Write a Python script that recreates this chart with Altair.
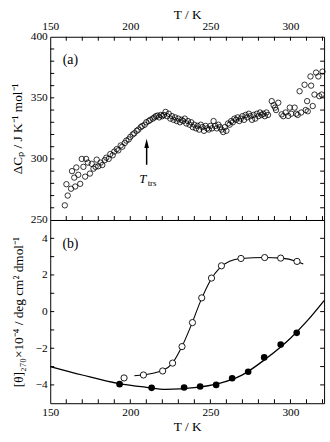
import altair as alt
import pandas as pd

# ---------------- data: panel (a) ----------------
cp_T = [159.1, 160.1, 160.9, 163.0, 163.6, 165.0, 165.6, 166.3, 167.5, 168.7, 169.7, 170.7,
        171.8, 172.4, 173.5, 174.8, 175.9, 177.0, 178.3, 179.0,
        180.0, 181.5, 182.5, 184.0, 185.0, 186.5, 187.5, 189.0, 190.0, 191.5, 192.5, 194.0,
        195.0, 196.5, 197.5, 199.0, 200.0, 201.5, 202.5, 204.0, 205.0, 206.5, 207.5, 209.0,
        210.0, 211.5, 212.5, 214.0, 215.0,
        216, 217, 218, 219, 220, 221, 222, 223, 224, 225, 226, 227, 228, 229, 230, 231, 232,
        233, 234, 235, 236, 237, 238, 239, 240, 241, 242, 243, 244, 245, 246, 247, 248, 249,
        250, 251, 252, 253, 254, 255, 256, 257, 258, 259, 260, 261, 262,
        263, 264, 265, 266, 267, 268, 269, 270, 271, 272, 273, 274, 275, 276, 277, 278, 279,
        280, 281, 282, 283, 284, 285, 286,
        288.3, 289.5, 290.4, 291.0, 292.4, 294.5, 295.5, 297.0, 298.6, 299.6, 300.5, 302.6,
        303.6, 304.5,
        305.7, 306.7, 308.8, 309.5, 310.4, 310.8, 312.5, 312.9, 313.9, 315.0, 316.0, 317.4,
        318.0, 319.5, 320.0]
cp_val = [262.0, 279.3, 270.0, 275.6, 290.0, 284.7, 277.4, 293.0, 287.0, 279.6, 300.0, 293.5,
          285.5, 300.0, 297.0, 288.0, 296.0, 292.0, 293.5, 299.4,
          294, 297, 295, 299, 301, 300, 304, 303, 306, 308, 307, 311,
          310, 313, 315, 316, 318, 320, 321, 323, 324, 326, 327, 328,
          330, 331, 332, 333, 334,
          335, 335.5, 334, 336, 335, 336, 338.5, 335, 337, 333, 335, 332, 334, 331, 333, 330, 332,
          331, 333, 329, 331, 328, 330, 326, 328, 325, 327, 324, 328, 326, 323, 327, 325, 324,
          327, 325, 331, 327, 325, 328, 326, 324, 322, 326, 323, 329, 328,
          331, 330, 333, 332, 334, 331, 333, 335, 332, 336, 334, 337, 335, 332, 336, 333, 337,
          335, 338, 336, 337, 335, 338, 336,
          347.3, 344.0, 342.0, 340.0, 346.0, 336.5, 335.0, 338.0, 335.2, 342.0, 337.0, 342.0,
          337.0, 336.0,
          355.4, 338.0, 360.7, 340.0, 347.3, 339.0, 367.5, 360.0, 343.3, 352.7, 370.7, 367.5,
          351.4, 352.7, 371.5]

# ---------------- data: panel (b) ----------------
open_T = [196.1, 208.2, 220.2, 226.4, 232.3, 238.8, 244.6, 250.7, 256.9, 269.1, 283.9, 293.9, 304.1]
open_val = [-3.62, -3.46, -3.24, -2.81, -1.91, -0.60, 0.75, 1.83, 2.50, 2.90, 2.95, 2.92, 2.74]

filled_T = [193.3, 213.3, 233.6, 243.6, 253.6, 263.6, 273.6, 283.6, 293.9, 303.9]
filled_val = [-3.96, -4.16, -4.14, -4.09, -4.00, -3.64, -3.28, -2.50, -1.80, -1.16]

open_fit_T = [202.5, 208, 215, 220, 226, 232, 238, 244, 250, 256, 262, 269, 284, 294, 304, 308]
open_fit_val = [-3.50, -3.46, -3.35, -3.22, -2.85, -1.95, -0.75, 0.60, 1.70, 2.40, 2.75, 2.90,
                2.95, 2.92, 2.74, 2.60]

filled_fit_T = [150, 170, 193, 210, 222, 240, 255, 270, 285, 300, 310, 321]
filled_fit_val = [-3.00, -3.46, -3.93, -4.13, -4.24, -4.15, -3.93, -3.45, -2.55, -1.45, -0.55, 0.60]

x_labels = [150, 200, 250, 300]
x_minor = list(range(160, 330, 10))
cp_labels = [250, 300, 350, 400]
cp_minor = list(range(260, 400, 10))
th_labels = [-4, -2, 0, 2, 4]
th_minor = list(range(-4, 5, 1))

arrow_T = [210.2]
arrow_lo = [295.2]
arrow_hi = [312.3]

# ---------------- layout ----------------
W = 278
H = 186
TL = 4  # inward tick length
TDOM = [150, 321]
FONT = "Liberation Serif"

df_a = pd.DataFrame({"T": cp_T, "v": cp_val})
df_open = pd.DataFrame({"T": open_T, "v": open_val})
df_filled = pd.DataFrame({"T": filled_T, "v": filled_val})
df_open_fit = pd.DataFrame({"T": open_fit_T, "v": open_fit_val})
df_filled_fit = pd.DataFrame({"T": filled_fit_T, "v": filled_fit_val})
df_xt = pd.DataFrame({"T": x_minor})
df_cpt = pd.DataFrame({"v": cp_minor})
df_tht = pd.DataFrame({"v": th_minor})

xs = alt.Scale(domain=TDOM, nice=False, zero=False)
ys_a = alt.Scale(domain=[250, 400], nice=False, zero=False)
ys_b = alt.Scale(domain=[-5, 5], nice=False, zero=False)


def label_axis(orient, values, title, tpad, lpad=3):
    return alt.Axis(orient=orient, values=values, title=title, tickSize=0, ticks=False,
                    domain=False, grid=False, labelFontSize=11.5, titleFontSize=13.5,
                    titleFontWeight="normal", labelPadding=lpad, titlePadding=tpad,
                    labelFlush=False, labelOverlap=False)


def x_ticks(top=True, bottom=True):
    layers = []
    if top:
        layers.append(alt.Chart(df_xt).mark_rule(color="black", strokeWidth=1).encode(
            x=alt.X("T:Q", scale=xs, axis=None), y=alt.value(0), y2=alt.value(TL)))
    if bottom:
        layers.append(alt.Chart(df_xt).mark_rule(color="black", strokeWidth=1).encode(
            x=alt.X("T:Q", scale=xs, axis=None), y=alt.value(H), y2=alt.value(H - TL)))
    return layers


def y_ticks(df, ys):
    return [
        alt.Chart(df).mark_rule(color="black", strokeWidth=1).encode(
            y=alt.Y("v:Q", scale=ys, axis=None), x=alt.value(0), x2=alt.value(TL)),
        alt.Chart(df).mark_rule(color="black", strokeWidth=1).encode(
            y=alt.Y("v:Q", scale=ys, axis=None), x=alt.value(W), x2=alt.value(W - TL)),
    ]


# ---- panel (a)
pts_a = alt.Chart(df_a).mark_point(shape="circle", filled=False, color="black",
                                   size=30, strokeWidth=0.8, opacity=1).encode(
    x=alt.X("T:Q", scale=xs, axis=label_axis("top", x_labels, "T / K", 0, 5)),
    y=alt.Y("v:Q", scale=ys_a, axis=label_axis("left", cp_labels, "ΔCₚ / J K⁻¹ mol⁻¹", 6)),
)
df_arrow = pd.DataFrame({"T": arrow_T, "lo": arrow_lo, "hi": arrow_hi})
arrow_shaft = alt.Chart(df_arrow).mark_rule(color="black", strokeWidth=1.5).encode(
    x=alt.X("T:Q", scale=xs, axis=None),
    y=alt.Y("lo:Q", scale=ys_a, axis=None),
    y2="hi:Q",
)
arrow_head = alt.Chart(df_arrow).mark_point(
    shape="M0,-1L0.45,0.8L-0.45,0.8Z", filled=True, color="black", size=110, opacity=1
).encode(
    x=alt.X("T:Q", scale=xs, axis=None),
    y=alt.Y("hi:Q", scale=ys_a, axis=None),
)
lab_a = alt.Chart(pd.DataFrame({"T": [162.6], "v": [380.6], "t": ["(a)"]})).mark_text(
    font=FONT, fontSize=14, color="black", baseline="middle", align="center"
).encode(x=alt.X("T:Q", scale=xs, axis=None), y=alt.Y("v:Q", scale=ys_a, axis=None), text="t:N")
ttrs_T = alt.Chart(pd.DataFrame({"T": [210.2], "v": [283.5], "t": ["T"]})).mark_text(
    font=FONT, fontSize=13, fontStyle="italic", color="black", baseline="middle", align="center", dx=-4
).encode(x=alt.X("T:Q", scale=xs, axis=None), y=alt.Y("v:Q", scale=ys_a, axis=None), text="t:N")
ttrs_s = alt.Chart(pd.DataFrame({"T": [210.2], "v": [283.5], "t": ["trs"]})).mark_text(
    font=FONT, fontSize=9, color="black", baseline="middle", align="left", dx=1, dy=4
).encode(x=alt.X("T:Q", scale=xs, axis=None), y=alt.Y("v:Q", scale=ys_a, axis=None), text="t:N")

panel_a = alt.layer(
    pts_a, *x_ticks(True, True), *y_ticks(df_cpt, ys_a),
    arrow_shaft, arrow_head, lab_a, ttrs_T, ttrs_s
).resolve_axis(x="independent", y="independent").properties(width=W, height=H)

# ---- panel (b)
filled_fit = alt.Chart(df_filled_fit).mark_line(color="black", strokeWidth=1.3, interpolate="monotone").encode(
    x=alt.X("T:Q", scale=xs, axis=label_axis("bottom", x_labels, "T / K", 2)),
    y=alt.Y("v:Q", scale=ys_b, axis=label_axis("left", th_labels, "[θ]₂₇₀×10⁻⁴ / deg cm² dmol⁻¹", 10)),
)
open_fit = alt.Chart(df_open_fit).mark_line(color="black", strokeWidth=1.1, interpolate="monotone").encode(
    x=alt.X("T:Q", scale=xs, axis=None),
    y=alt.Y("v:Q", scale=ys_b, axis=None),
)
open_pts = alt.Chart(df_open).mark_point(shape="circle", filled=True, fill="white", stroke="black",
                                         size=40, strokeWidth=0.9, opacity=1).encode(
    x=alt.X("T:Q", scale=xs, axis=None),
    y=alt.Y("v:Q", scale=ys_b, axis=None),
)
filled_pts = alt.Chart(df_filled).mark_point(shape="circle", filled=True, color="black",
                                             size=45, opacity=1).encode(
    x=alt.X("T:Q", scale=xs, axis=None),
    y=alt.Y("v:Q", scale=ys_b, axis=None),
)
lab_b = alt.Chart(pd.DataFrame({"T": [162.6], "v": [3.67], "t": ["(b)"]})).mark_text(
    font=FONT, fontSize=14, color="black", baseline="middle", align="center"
).encode(x=alt.X("T:Q", scale=xs, axis=None), y=alt.Y("v:Q", scale=ys_b, axis=None), text="t:N")

panel_b = alt.layer(
    filled_fit, *x_ticks(False, True), *y_ticks(df_tht, ys_b),
    open_fit, open_pts, filled_pts, lab_b
).resolve_axis(x="independent", y="independent").properties(width=W, height=H)

chart = alt.vconcat(panel_a, panel_b, spacing=0, bounds="flush").properties(
    padding={"left": 10, "top": 3, "right": 2, "bottom": 2},
    background="white",
).configure_view(stroke="black", strokeWidth=1).configure_axis(
    labelFont=FONT, titleFont=FONT, labelColor="black", titleColor="black", grid=False
)

chart.save("out.html", embed_options={"renderer": "svg", "actions": False})
